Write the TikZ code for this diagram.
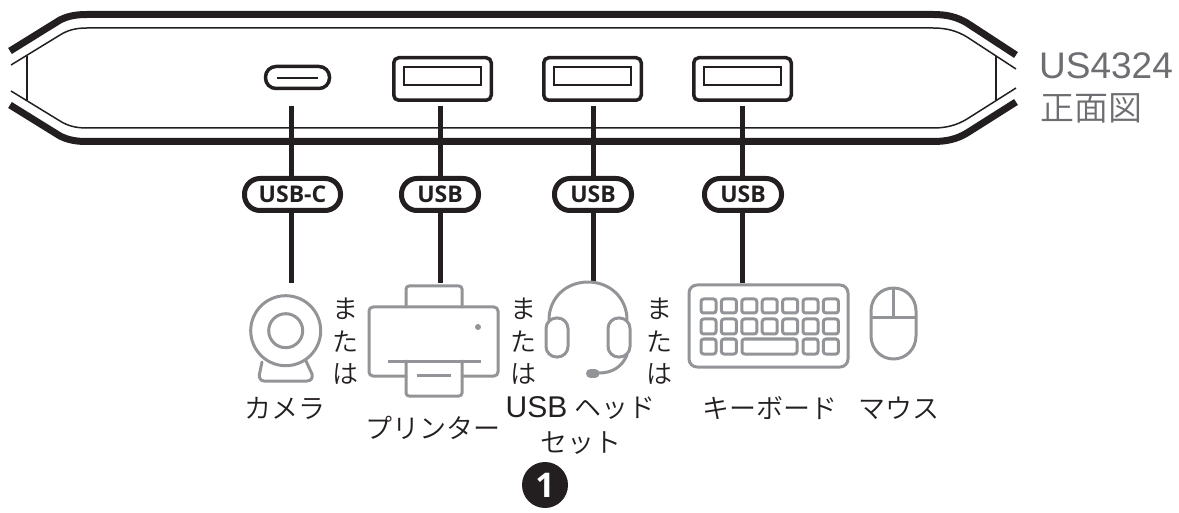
\documentclass[tikz,border=0pt]{standalone}
\usepackage{fontspec}
\setmainfont{Noto Sans CJK JP DemiLight}
\newfontfamily\lat{Liberation Sans}
\newfontfamily\pillfont{Open Sans}
\definecolor{ink}{HTML}{231F20}
\definecolor{icon}{HTML}{929497}
\definecolor{cap}{HTML}{6D6E71}
\tikzset{
  x=1pt,y=-1pt,
  thickedge/.style={draw=ink,line width=7pt},
  thinedge/.style={draw=ink,line width=1.5pt},
  portbox/.style={draw=ink,line width=3.5pt,rounded corners=5pt,inner sep=0pt,minimum width=97.5pt,minimum height=42.5pt},
  portslot/.style={draw=ink,line width=1.8pt,inner sep=0pt,minimum width=77pt,minimum height=18.5pt},
  cable/.style={draw=ink,line width=5pt},
  pill/.style={draw=ink,line width=5pt,fill=white,rounded corners=15.5pt,inner sep=0pt,minimum height=32pt,text=ink,font=\pillfont\bfseries\fontsize{23}{24}\selectfont},
  gline/.style={draw=icon,line width=3pt,line join=round,line cap=round},
  lab/.style={text=ink,inner sep=0pt,font=\fontsize{27}{30}\selectfont},
  tate/.style={text=ink,inner sep=0pt,font=\fontsize{26}{28}\selectfont},
}
\begin{document}
\begin{tikzpicture}
\useasboundingbox (0,0) rectangle (1179,513);
% enclosure
\path[thickedge] (10,51) -- (60,20) .. controls (68,16) and (76,14.5) .. (87,14.5) -- (933,14.5) .. controls (947,14.5) and (957,17) .. (967,23) -- (1016,55);
\path[thickedge] (10,105) -- (60,136) .. controls (68,140) and (76,141.5) .. (87,141.5) -- (933,141.5) .. controls (947,141.5) and (957,139) .. (967,133) -- (1016,102);
\path[thinedge] (11,65) -- (60,35) .. controls (68,30) and (76,28) .. (87,28) -- (933,28) .. controls (947,28) and (957,31) .. (967,37) -- (1016,69);
\path[thinedge] (11,91) -- (60,121) .. controls (68,126) and (76,128) .. (87,128) -- (933,128) .. controls (947,128) and (957,125) .. (967,119) -- (1016,88);
\path[thinedge] (27,56) -- (27,100);
\path[thinedge] (996,56) -- (996,100);
% ports
\node[draw=ink,line width=3.5pt,rounded corners=10.5pt,inner sep=0pt,minimum width=64pt,minimum height=22pt] (pc) at (297.5,77.5) {};
\draw[ink,line width=1.8pt] (277,78) -- (318,78);
\node[portbox] (p2) at (442.5,79) {};
\node[portslot] at (442.5,76) {};
\node[portbox] (p3) at (592.5,79) {};
\node[portslot] at (592.5,76) {};
\node[portbox] (p4) at (742.5,79) {};
\node[portslot] at (742.5,76) {};
% cable ends
\coordinate (c1t) at (291,106); \coordinate (c1b) at (291,283);
\coordinate (c2t) at (440,106); \coordinate (c2b) at (440,283);
\coordinate (c3t) at (593,106); \coordinate (c3b) at (593,282);
\coordinate (c4t) at (742,106); \coordinate (c4b) at (742,283);
\draw[cable] (c1t) -- (c1b);
\draw[cable] (c2t) -- (c2b);
\draw[cable] (c3t) -- (c3b);
\draw[cable] (c4t) -- (c4b);
\node[pill,minimum width=96pt] (u1) at (292.5,194.5) {USB-C};
\node[pill,minimum width=77pt] (u2) at (440,194.5) {USB};
\node[pill,minimum width=77pt] (u3) at (593,194.5) {USB};
\node[pill,minimum width=77pt] (u4) at (743,194.5) {USB};
% camera
\draw[gline] (285.7,330.7) circle (35);
\draw[gline] (285.7,330.7) circle (17);
\draw[gline] (262,362) -- (259.5,374) .. controls (258.5,378) and (261,381) .. (264,381) -- (307,381) .. controls (311,381) and (313,378) .. (312,374) -- (306,361);
% printer
\draw[gline,rounded corners=3pt] (406,307) -- (406,286) -- (462,286) -- (462,307);
\draw[gline,rounded corners=4pt] (406,376) -- (369,376) -- (369,307) -- (498,307) -- (498,376) -- (462,376);
\draw[gline,rounded corners=3pt] (406,361) -- (406,396) -- (462,396) -- (462,361);
\draw[gline,line cap=butt] (388,361) -- (481,361);
\draw[gline,line cap=butt] (417,375) -- (451,375);
\fill[icon] (478,327) circle (3);
% headset
\draw[gline] (549,320) .. controls (549,298) and (566,282) .. (588,282) .. controls (610,282) and (627,298) .. (627,320);
\draw[gline,rounded corners=10.5pt] (546,318) rectangle (568,357);
\draw[gline,rounded corners=10.5pt] (608,318) rectangle (630,357);
\draw[gline] (627,355) .. controls (622,367) and (612,373) .. (599,373);
\draw[icon,line width=9pt,line cap=round] (590.5,373.5) -- (595,373.5);
% keyboard
\draw[gline,rounded corners=8pt] (689,285) rectangle (848,367);
\foreach \kx in {0,...,6}{
  \draw[gline,rounded corners=2.5pt] (701+\kx*20.4,299) rectangle (716+\kx*20.4,313);
  \draw[gline,rounded corners=2.5pt] (701+\kx*20.4,319) rectangle (716+\kx*20.4,334);
}
\foreach \kx in {0,1,5,6}{
  \draw[gline,rounded corners=2.5pt] (701+\kx*20.4,339) rectangle (716+\kx*20.4,354);
}
\draw[gline,rounded corners=2.5pt] (742,339) rectangle (797,354);
% mouse
\draw[gline] (871,311) .. controls (871,298) and (881,288) .. (893.5,288) .. controls (906,288) and (916,298) .. (916,311) -- (916,336) .. controls (916,349) and (906,359) .. (893.5,359) .. controls (881,359) and (871,349) .. (871,336) -- cycle;
\draw[gline,line cap=butt] (893.5,288) -- (893.5,318);
\draw[gline,line cap=butt] (871,318) -- (916,318);
% texts
\node[tate] (m1a) at (345,309) {ま};
\node[tate] (m1b) at (345,342) {た};
\node[tate] (m1c) at (345,374) {は};
\node[tate] (m2a) at (523,309) {ま};
\node[tate] (m2b) at (523,342) {た};
\node[tate] (m2c) at (523,374) {は};
\node[tate] (m3a) at (659,309) {ま};
\node[tate] (m3b) at (659,342) {た};
\node[tate] (m3c) at (659,374) {は};
\node[lab] (t1) at (285,408) {カメラ};
\node[lab] (t2) at (432.5,428) {プリンター};
\node[lab] (t3) at (580.5,408) {{\lat\fontsize{30}{30}\selectfont USB}\hspace{7pt}ヘッド};
\node[lab] (t3b) at (581,443) {セット};
\node[lab] (t4) at (770,408) {キーボード};
\node[lab] (t5) at (898.5,408) {マウス};
\node[text=cap,inner sep=0pt,font=\lat\fontsize{37}{38}\selectfont,anchor=west] (m) at (1039,66) {US4324};
\node[text=cap,inner sep=0pt,font=\fontsize{34}{36}\selectfont,anchor=west] (v) at (1040,108) {正面図};
\node[circle,fill=ink,text=white,inner sep=0pt,minimum size=46pt,font=\pillfont\bfseries\fontsize{34}{36}\selectfont] (n1) at (545,485) {1};
\end{tikzpicture}
\end{document}
